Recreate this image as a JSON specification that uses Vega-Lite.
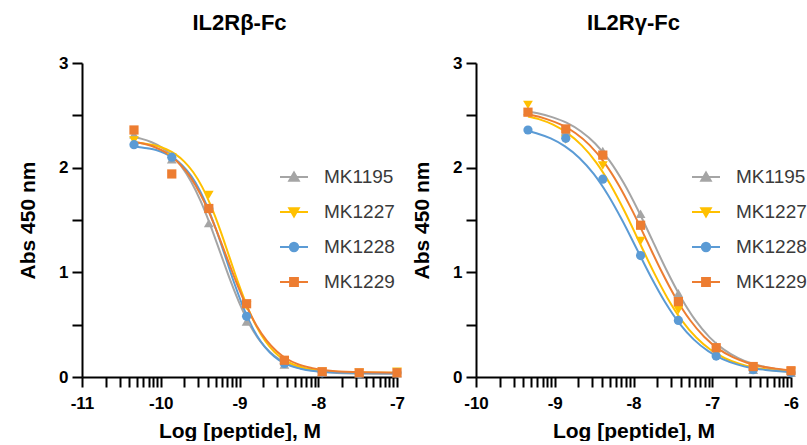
{
  "$schema": "https://vega.github.io/schema/vega-lite/v6.json",
  "padding": {"left": 17, "top": 12, "right": 0, "bottom": 0},
  "config": {
    "view": {"stroke": null},
    "font": "Liberation Sans",
    "title": {"font": "Liberation Sans", "fontSize": 22, "fontWeight": "bold", "color": "black", "offset": 19, "anchor": "middle"},
    "axis": {
      "domainColor": "black", "domainWidth": 2, "tickColor": "black", "tickWidth": 2, "tickSize": 10,
      "labelFont": "Liberation Sans", "labelFontSize": 17, "labelFontWeight": "bold", "labelColor": "black",
      "titleFont": "Liberation Sans", "titleFontSize": 21, "titleFontWeight": "bold", "titleColor": "black",
      "grid": false, "labelOverlap": false, "labelFlush": false
    },
    "axisX": {"labelPadding": 8, "titlePadding": 9},
    "axisY": {"labelPadding": 4, "titlePadding": 20}
  },
  "datasets": {
    "pts": [
      {"p":"L","s":"MK1195","x":-10.34,"y":2.32},{"p":"L","s":"MK1195","x":-9.86,"y":2.08},{"p":"L","s":"MK1195","x":-9.39,"y":1.47},{"p":"L","s":"MK1195","x":-8.91,"y":0.53},{"p":"L","s":"MK1195","x":-8.43,"y":0.12},{"p":"L","s":"MK1195","x":-7.95,"y":0.05},{"p":"L","s":"MK1195","x":-7.48,"y":0.035},{"p":"L","s":"MK1195","x":-7.0,"y":0.035},
      {"p":"L","s":"MK1227","x":-10.34,"y":2.26},{"p":"L","s":"MK1227","x":-9.86,"y":2.10},{"p":"L","s":"MK1227","x":-9.39,"y":1.74},{"p":"L","s":"MK1227","x":-8.91,"y":0.68},{"p":"L","s":"MK1227","x":-8.43,"y":0.15},{"p":"L","s":"MK1227","x":-7.95,"y":0.05},{"p":"L","s":"MK1227","x":-7.48,"y":0.04},{"p":"L","s":"MK1227","x":-7.0,"y":0.05},
      {"p":"L","s":"MK1228","x":-10.34,"y":2.22},{"p":"L","s":"MK1228","x":-9.86,"y":2.10},{"p":"L","s":"MK1228","x":-9.39,"y":1.61},{"p":"L","s":"MK1228","x":-8.91,"y":0.58},{"p":"L","s":"MK1228","x":-8.43,"y":0.13},{"p":"L","s":"MK1228","x":-7.95,"y":0.04},{"p":"L","s":"MK1228","x":-7.48,"y":0.03},{"p":"L","s":"MK1228","x":-7.0,"y":0.04},
      {"p":"L","s":"MK1229","x":-10.34,"y":2.36},{"p":"L","s":"MK1229","x":-9.86,"y":1.94},{"p":"L","s":"MK1229","x":-9.39,"y":1.61},{"p":"L","s":"MK1229","x":-8.91,"y":0.70},{"p":"L","s":"MK1229","x":-8.43,"y":0.16},{"p":"L","s":"MK1229","x":-7.95,"y":0.05},{"p":"L","s":"MK1229","x":-7.48,"y":0.04},{"p":"L","s":"MK1229","x":-7.0,"y":0.04},
      {"p":"R","s":"MK1195","x":-9.34,"y":2.54},{"p":"R","s":"MK1195","x":-8.86,"y":2.35},{"p":"R","s":"MK1195","x":-8.39,"y":2.16},{"p":"R","s":"MK1195","x":-7.91,"y":1.56},{"p":"R","s":"MK1195","x":-7.43,"y":0.80},{"p":"R","s":"MK1195","x":-6.95,"y":0.30},{"p":"R","s":"MK1195","x":-6.48,"y":0.07},{"p":"R","s":"MK1195","x":-6.0,"y":0.04},
      {"p":"R","s":"MK1227","x":-9.34,"y":2.60},{"p":"R","s":"MK1227","x":-8.86,"y":2.27},{"p":"R","s":"MK1227","x":-8.39,"y":2.02},{"p":"R","s":"MK1227","x":-7.91,"y":1.30},{"p":"R","s":"MK1227","x":-7.43,"y":0.64},{"p":"R","s":"MK1227","x":-6.95,"y":0.22},{"p":"R","s":"MK1227","x":-6.48,"y":0.08},{"p":"R","s":"MK1227","x":-6.0,"y":0.05},
      {"p":"R","s":"MK1228","x":-9.34,"y":2.36},{"p":"R","s":"MK1228","x":-8.86,"y":2.28},{"p":"R","s":"MK1228","x":-8.39,"y":1.89},{"p":"R","s":"MK1228","x":-7.91,"y":1.16},{"p":"R","s":"MK1228","x":-7.43,"y":0.54},{"p":"R","s":"MK1228","x":-6.95,"y":0.20},{"p":"R","s":"MK1228","x":-6.48,"y":0.07},{"p":"R","s":"MK1228","x":-6.0,"y":0.04},
      {"p":"R","s":"MK1229","x":-9.34,"y":2.53},{"p":"R","s":"MK1229","x":-8.86,"y":2.37},{"p":"R","s":"MK1229","x":-8.39,"y":2.12},{"p":"R","s":"MK1229","x":-7.91,"y":1.45},{"p":"R","s":"MK1229","x":-7.43,"y":0.72},{"p":"R","s":"MK1229","x":-6.95,"y":0.28},{"p":"R","s":"MK1229","x":-6.48,"y":0.10},{"p":"R","s":"MK1229","x":-6.0,"y":0.06}
    ],
    "fit": [
      {"p":"L","s":"MK1195","x":-10.34,"y":2.29},{"p":"L","s":"MK1195","x":-10.24,"y":2.275},{"p":"L","s":"MK1195","x":-10.115,"y":2.243},{"p":"L","s":"MK1195","x":-9.99,"y":2.194},{"p":"L","s":"MK1195","x":-9.865,"y":2.121},{"p":"L","s":"MK1195","x":-9.74,"y":2.015},{"p":"L","s":"MK1195","x":-9.615,"y":1.868},{"p":"L","s":"MK1195","x":-9.49,"y":1.675},{"p":"L","s":"MK1195","x":-9.365,"y":1.44},{"p":"L","s":"MK1195","x":-9.24,"y":1.18},{"p":"L","s":"MK1195","x":-9.115,"y":0.92},{"p":"L","s":"MK1195","x":-8.99,"y":0.686},{"p":"L","s":"MK1195","x":-8.865,"y":0.492},{"p":"L","s":"MK1195","x":-8.74,"y":0.345},{"p":"L","s":"MK1195","x":-8.615,"y":0.239},{"p":"L","s":"MK1195","x":-8.49,"y":0.166},{"p":"L","s":"MK1195","x":-8.365,"y":0.117},{"p":"L","s":"MK1195","x":-8.178,"y":0.076},{"p":"L","s":"MK1195","x":-7.99,"y":0.053},{"p":"L","s":"MK1195","x":-7.678,"y":0.037},{"p":"L","s":"MK1195","x":-7.0,"y":0.031},
      {"p":"L","s":"MK1227","x":-10.34,"y":2.242},{"p":"L","s":"MK1227","x":-10.159,"y":2.224},{"p":"L","s":"MK1227","x":-10.044,"y":2.207},{"p":"L","s":"MK1227","x":-9.93,"y":2.176},{"p":"L","s":"MK1227","x":-9.816,"y":2.129},{"p":"L","s":"MK1227","x":-9.701,"y":2.058},{"p":"L","s":"MK1227","x":-9.587,"y":1.956},{"p":"L","s":"MK1227","x":-9.473,"y":1.814},{"p":"L","s":"MK1227","x":-9.359,"y":1.627},{"p":"L","s":"MK1227","x":-9.244,"y":1.401},{"p":"L","s":"MK1227","x":-9.13,"y":1.15},{"p":"L","s":"MK1227","x":-9.016,"y":0.899},{"p":"L","s":"MK1227","x":-8.901,"y":0.673},{"p":"L","s":"MK1227","x":-8.787,"y":0.486},{"p":"L","s":"MK1227","x":-8.673,"y":0.344},{"p":"L","s":"MK1227","x":-8.559,"y":0.242},{"p":"L","s":"MK1227","x":-8.444,"y":0.171},{"p":"L","s":"MK1227","x":-8.33,"y":0.124},{"p":"L","s":"MK1227","x":-8.159,"y":0.084},{"p":"L","s":"MK1227","x":-7.987,"y":0.062},{"p":"L","s":"MK1227","x":-7.701,"y":0.047},{"p":"L","s":"MK1227","x":-7.0,"y":0.04},
      {"p":"L","s":"MK1228","x":-10.34,"y":2.203},{"p":"L","s":"MK1228","x":-10.17,"y":2.185},{"p":"L","s":"MK1228","x":-10.059,"y":2.168},{"p":"L","s":"MK1228","x":-9.948,"y":2.137},{"p":"L","s":"MK1228","x":-9.837,"y":2.091},{"p":"L","s":"MK1228","x":-9.726,"y":2.021},{"p":"L","s":"MK1228","x":-9.614,"y":1.921},{"p":"L","s":"MK1228","x":-9.503,"y":1.781},{"p":"L","s":"MK1228","x":-9.392,"y":1.597},{"p":"L","s":"MK1228","x":-9.281,"y":1.374},{"p":"L","s":"MK1228","x":-9.17,"y":1.128},{"p":"L","s":"MK1228","x":-9.059,"y":0.881},{"p":"L","s":"MK1228","x":-8.948,"y":0.658},{"p":"L","s":"MK1228","x":-8.837,"y":0.474},{"p":"L","s":"MK1228","x":-8.726,"y":0.334},{"p":"L","s":"MK1228","x":-8.614,"y":0.234},{"p":"L","s":"MK1228","x":-8.503,"y":0.164},{"p":"L","s":"MK1228","x":-8.392,"y":0.118},{"p":"L","s":"MK1228","x":-8.226,"y":0.079},{"p":"L","s":"MK1228","x":-8.059,"y":0.057},{"p":"L","s":"MK1228","x":-7.781,"y":0.042},{"p":"L","s":"MK1228","x":-7.0,"y":0.035},
      {"p":"L","s":"MK1229","x":-10.34,"y":2.246},{"p":"L","s":"MK1229","x":-10.202,"y":2.226},{"p":"L","s":"MK1229","x":-10.073,"y":2.195},{"p":"L","s":"MK1229","x":-9.944,"y":2.148},{"p":"L","s":"MK1229","x":-9.815,"y":2.076},{"p":"L","s":"MK1229","x":-9.686,"y":1.973},{"p":"L","s":"MK1229","x":-9.557,"y":1.83},{"p":"L","s":"MK1229","x":-9.428,"y":1.642},{"p":"L","s":"MK1229","x":-9.299,"y":1.413},{"p":"L","s":"MK1229","x":-9.17,"y":1.16},{"p":"L","s":"MK1229","x":-9.041,"y":0.907},{"p":"L","s":"MK1229","x":-8.912,"y":0.678},{"p":"L","s":"MK1229","x":-8.783,"y":0.49},{"p":"L","s":"MK1229","x":-8.654,"y":0.347},{"p":"L","s":"MK1229","x":-8.525,"y":0.244},{"p":"L","s":"MK1229","x":-8.396,"y":0.172},{"p":"L","s":"MK1229","x":-8.267,"y":0.125},{"p":"L","s":"MK1229","x":-8.073,"y":0.085},{"p":"L","s":"MK1229","x":-7.88,"y":0.062},{"p":"L","s":"MK1229","x":-7.557,"y":0.047},{"p":"L","s":"MK1229","x":-7.0,"y":0.041},
      {"p":"R","s":"MK1195","x":-9.34,"y":2.534},{"p":"R","s":"MK1195","x":-9.215,"y":2.519},{"p":"R","s":"MK1195","x":-9.033,"y":2.483},{"p":"R","s":"MK1195","x":-8.851,"y":2.43},{"p":"R","s":"MK1195","x":-8.669,"y":2.348},{"p":"R","s":"MK1195","x":-8.487,"y":2.231},{"p":"R","s":"MK1195","x":-8.305,"y":2.067},{"p":"R","s":"MK1195","x":-8.124,"y":1.853},{"p":"R","s":"MK1195","x":-7.942,"y":1.593},{"p":"R","s":"MK1195","x":-7.76,"y":1.305},{"p":"R","s":"MK1195","x":-7.578,"y":1.017},{"p":"R","s":"MK1195","x":-7.396,"y":0.757},{"p":"R","s":"MK1195","x":-7.215,"y":0.543},{"p":"R","s":"MK1195","x":-7.033,"y":0.379},{"p":"R","s":"MK1195","x":-6.851,"y":0.262},{"p":"R","s":"MK1195","x":-6.669,"y":0.18},{"p":"R","s":"MK1195","x":-6.487,"y":0.127},{"p":"R","s":"MK1195","x":-6.305,"y":0.091},{"p":"R","s":"MK1195","x":-6.0,"y":0.059},
      {"p":"R","s":"MK1227","x":-9.34,"y":2.489},{"p":"R","s":"MK1227","x":-9.203,"y":2.464},{"p":"R","s":"MK1227","x":-9.021,"y":2.411},{"p":"R","s":"MK1227","x":-8.839,"y":2.33},{"p":"R","s":"MK1227","x":-8.657,"y":2.213},{"p":"R","s":"MK1227","x":-8.475,"y":2.051},{"p":"R","s":"MK1227","x":-8.294,"y":1.839},{"p":"R","s":"MK1227","x":-8.112,"y":1.581},{"p":"R","s":"MK1227","x":-7.93,"y":1.295},{"p":"R","s":"MK1227","x":-7.748,"y":1.009},{"p":"R","s":"MK1227","x":-7.566,"y":0.751},{"p":"R","s":"MK1227","x":-7.385,"y":0.539},{"p":"R","s":"MK1227","x":-7.203,"y":0.377},{"p":"R","s":"MK1227","x":-7.021,"y":0.26},{"p":"R","s":"MK1227","x":-6.839,"y":0.179},{"p":"R","s":"MK1227","x":-6.657,"y":0.126},{"p":"R","s":"MK1227","x":-6.475,"y":0.091},{"p":"R","s":"MK1227","x":-6.294,"y":0.07},{"p":"R","s":"MK1227","x":-6.0,"y":0.049},
      {"p":"R","s":"MK1228","x":-9.34,"y":2.351},{"p":"R","s":"MK1228","x":-9.233,"y":2.329},{"p":"R","s":"MK1228","x":-9.051,"y":2.279},{"p":"R","s":"MK1228","x":-8.869,"y":2.203},{"p":"R","s":"MK1228","x":-8.687,"y":2.093},{"p":"R","s":"MK1228","x":-8.505,"y":1.94},{"p":"R","s":"MK1228","x":-8.324,"y":1.739},{"p":"R","s":"MK1228","x":-8.142,"y":1.495},{"p":"R","s":"MK1228","x":-7.96,"y":1.225},{"p":"R","s":"MK1228","x":-7.778,"y":0.955},{"p":"R","s":"MK1228","x":-7.596,"y":0.711},{"p":"R","s":"MK1228","x":-7.415,"y":0.51},{"p":"R","s":"MK1228","x":-7.233,"y":0.357},{"p":"R","s":"MK1228","x":-7.051,"y":0.247},{"p":"R","s":"MK1228","x":-6.869,"y":0.171},{"p":"R","s":"MK1228","x":-6.687,"y":0.121},{"p":"R","s":"MK1228","x":-6.505,"y":0.087},{"p":"R","s":"MK1228","x":-6.324,"y":0.068},{"p":"R","s":"MK1228","x":-6.0,"y":0.047},
      {"p":"R","s":"MK1229","x":-9.34,"y":2.507},{"p":"R","s":"MK1229","x":-9.284,"y":2.5},{"p":"R","s":"MK1229","x":-9.103,"y":2.464},{"p":"R","s":"MK1229","x":-8.921,"y":2.411},{"p":"R","s":"MK1229","x":-8.739,"y":2.331},{"p":"R","s":"MK1229","x":-8.557,"y":2.215},{"p":"R","s":"MK1229","x":-8.375,"y":2.053},{"p":"R","s":"MK1229","x":-8.194,"y":1.842},{"p":"R","s":"MK1229","x":-8.012,"y":1.585},{"p":"R","s":"MK1229","x":-7.83,"y":1.30},{"p":"R","s":"MK1229","x":-7.648,"y":1.015},{"p":"R","s":"MK1229","x":-7.466,"y":0.758},{"p":"R","s":"MK1229","x":-7.285,"y":0.547},{"p":"R","s":"MK1229","x":-7.103,"y":0.385},{"p":"R","s":"MK1229","x":-6.921,"y":0.269},{"p":"R","s":"MK1229","x":-6.739,"y":0.189},{"p":"R","s":"MK1229","x":-6.557,"y":0.136},{"p":"R","s":"MK1229","x":-6.375,"y":0.10},{"p":"R","s":"MK1229","x":-6.194,"y":0.08},{"p":"R","s":"MK1229","x":-6.0,"y":0.064}
    ]
  },
  "spacing": 6,
  "resolve": {"scale": {"color": "independent"}, "legend": {"color": "independent"}},
  "hconcat": [
    {
      "width": 315, "height": 314,
      "title": "IL2Rβ-Fc",
      "layer": [
        {
          "data": {"name": "fit"},
          "transform": [{"filter": "datum.p === 'L'"}],
          "mark": {"type": "line", "interpolate": "monotone", "strokeWidth": 2},
          "encoding": {
            "x": {"field": "x", "type": "quantitative", "scale": {"domain": [-11, -7], "nice": false, "zero": false},
              "axis": {"title": "Log [peptide], M", "labelOverlap": false, "labelFlush": false, "tickCount": 100,
                "values": [-11,-10.699,-10.523,-10.398,-10.301,-10.222,-10.155,-10.097,-10.046,-10,-9.699,-9.523,-9.398,-9.301,-9.222,-9.155,-9.097,-9.046,-9,-8.699,-8.523,-8.398,-8.301,-8.222,-8.155,-8.097,-8.046,-8,-7.699,-7.523,-7.398,-7.301,-7.222,-7.155,-7.097,-7.046,-7],
                "labelExpr": "abs(datum.value - round(datum.value)) < 0.001 ? '' + round(datum.value) : ''",
                "encode": {"ticks": {"update": {"y2": {"signal": "abs(datum.value - round(datum.value)) < 0.001 ? 10 : 5"}}}}}},
            "y": {"field": "y", "type": "quantitative", "scale": {"domain": [0, 3], "nice": false},
              "axis": {"title": "Abs 450 nm", "values": [0, 0.5, 1, 1.5, 2, 2.5, 3], "labelOverlap": false, "tickCount": 100,
                "labelExpr": "abs(datum.value - round(datum.value)) < 0.001 ? '' + round(datum.value) : ''",
                "encode": {"ticks": {"update": {"x2": {"signal": "abs(datum.value - round(datum.value)) < 0.001 ? -10 : -4"}}}}}},
            "color": {"field": "s", "type": "nominal",
              "scale": {"domain": ["MK1195","MK1227","MK1228","MK1229"], "range": ["#A5A5A5","#FFC000","#5B9BD5","#ED7D31"]},
              "legend": {"orient": "none", "legendX": 197, "legendY": 99, "title": null, "padding": 0,
                "symbolSize": 784, "symbolStrokeWidth": 2, "labelFont": "Liberation Sans", "labelFontSize": 19, "labelColor": "#3a3a3a", "labelOffset": 15, "rowPadding": 10,
                "encode": {"symbols": {"update": {
                  "shape": {"signal": "datum.value === 'MK1195' ? 'M-1,0H1M0,-0.32L0.34,0.26L-0.34,0.26Z' : datum.value === 'MK1227' ? 'M-1,0H1M0,0.32L0.34,-0.26L-0.34,-0.26Z' : datum.value === 'MK1228' ? 'M-1,0H1M0.3,0A0.3,0.3,0,1,1,-0.3,0A0.3,0.3,0,1,1,0.3,0Z' : 'M-1,0H1M-0.28,-0.28H0.28V0.28H-0.28Z'"},
                  "fill": {"signal": "datum.value === 'MK1195' ? '#A5A5A5' : datum.value === 'MK1227' ? '#FFC000' : datum.value === 'MK1228' ? '#5B9BD5' : '#ED7D31'"},
                  "stroke": {"signal": "datum.value === 'MK1195' ? '#A5A5A5' : datum.value === 'MK1227' ? '#FFC000' : datum.value === 'MK1228' ? '#5B9BD5' : '#ED7D31'"},
                  "strokeWidth": {"value": 2}, "size": {"value": 784}, "opacity": {"value": 1}, "fillOpacity": {"value": 1}}}}}}
          }
        },
        {"data": {"name": "pts"}, "transform": [{"filter": "datum.p === 'L' && datum.s === 'MK1195'"}],
         "mark": {"type": "point", "filled": true, "shape": "triangle-up", "size": 95, "color": "#A5A5A5", "opacity": 1},
         "encoding": {"x": {"field": "x", "type": "quantitative"}, "y": {"field": "y", "type": "quantitative"}}},
        {"data": {"name": "pts"}, "transform": [{"filter": "datum.p === 'L' && datum.s === 'MK1227'"}],
         "mark": {"type": "point", "filled": true, "shape": "triangle-down", "size": 95, "color": "#FFC000", "opacity": 1},
         "encoding": {"x": {"field": "x", "type": "quantitative"}, "y": {"field": "y", "type": "quantitative"}}},
        {"data": {"name": "pts"}, "transform": [{"filter": "datum.p === 'L' && datum.s === 'MK1228'"}],
         "mark": {"type": "point", "filled": true, "shape": "circle", "size": 85, "color": "#5B9BD5", "opacity": 1},
         "encoding": {"x": {"field": "x", "type": "quantitative"}, "y": {"field": "y", "type": "quantitative"}}},
        {"data": {"name": "pts"}, "transform": [{"filter": "datum.p === 'L' && datum.s === 'MK1229'"}],
         "mark": {"type": "point", "filled": true, "shape": "square", "size": 85, "color": "#ED7D31", "opacity": 1},
         "encoding": {"x": {"field": "x", "type": "quantitative"}, "y": {"field": "y", "type": "quantitative"}}}
      ]
    },
    {
      "width": 315, "height": 314,
      "title": "IL2Rγ-Fc",
      "layer": [
        {
          "data": {"name": "fit"},
          "transform": [{"filter": "datum.p === 'R'"}],
          "mark": {"type": "line", "interpolate": "monotone", "strokeWidth": 2},
          "encoding": {
            "x": {"field": "x", "type": "quantitative", "scale": {"domain": [-10, -6], "nice": false, "zero": false},
              "axis": {"title": "Log [peptide], M", "labelOverlap": false, "labelFlush": false, "tickCount": 100,
                "values": [-10,-9.699,-9.523,-9.398,-9.301,-9.222,-9.155,-9.097,-9.046,-9,-8.699,-8.523,-8.398,-8.301,-8.222,-8.155,-8.097,-8.046,-8,-7.699,-7.523,-7.398,-7.301,-7.222,-7.155,-7.097,-7.046,-7,-6.699,-6.523,-6.398,-6.301,-6.222,-6.155,-6.097,-6.046,-6],
                "labelExpr": "abs(datum.value - round(datum.value)) < 0.001 ? '' + round(datum.value) : ''",
                "encode": {"ticks": {"update": {"y2": {"signal": "abs(datum.value - round(datum.value)) < 0.001 ? 10 : 5"}}}}}},
            "y": {"field": "y", "type": "quantitative", "scale": {"domain": [0, 3], "nice": false},
              "axis": {"title": "Abs 450 nm", "values": [0, 0.5, 1, 1.5, 2, 2.5, 3], "labelOverlap": false, "tickCount": 100,
                "labelExpr": "abs(datum.value - round(datum.value)) < 0.001 ? '' + round(datum.value) : ''",
                "encode": {"ticks": {"update": {"x2": {"signal": "abs(datum.value - round(datum.value)) < 0.001 ? -10 : -4"}}}}}},
            "color": {"field": "s", "type": "nominal",
              "scale": {"domain": ["MK1195","MK1227","MK1228","MK1229"], "range": ["#A5A5A5","#FFC000","#5B9BD5","#ED7D31"]},
              "legend": {"orient": "none", "legendX": 215, "legendY": 99, "title": null, "padding": 0,
                "symbolSize": 784, "symbolStrokeWidth": 2, "labelFont": "Liberation Sans", "labelFontSize": 19, "labelColor": "#3a3a3a", "labelOffset": 15, "rowPadding": 10,
                "encode": {"symbols": {"update": {
                  "shape": {"signal": "datum.value === 'MK1195' ? 'M-1,0H1M0,-0.32L0.34,0.26L-0.34,0.26Z' : datum.value === 'MK1227' ? 'M-1,0H1M0,0.32L0.34,-0.26L-0.34,-0.26Z' : datum.value === 'MK1228' ? 'M-1,0H1M0.3,0A0.3,0.3,0,1,1,-0.3,0A0.3,0.3,0,1,1,0.3,0Z' : 'M-1,0H1M-0.28,-0.28H0.28V0.28H-0.28Z'"},
                  "fill": {"signal": "datum.value === 'MK1195' ? '#A5A5A5' : datum.value === 'MK1227' ? '#FFC000' : datum.value === 'MK1228' ? '#5B9BD5' : '#ED7D31'"},
                  "stroke": {"signal": "datum.value === 'MK1195' ? '#A5A5A5' : datum.value === 'MK1227' ? '#FFC000' : datum.value === 'MK1228' ? '#5B9BD5' : '#ED7D31'"},
                  "strokeWidth": {"value": 2}, "size": {"value": 784}, "opacity": {"value": 1}, "fillOpacity": {"value": 1}}}}}}
          }
        },
        {"data": {"name": "pts"}, "transform": [{"filter": "datum.p === 'R' && datum.s === 'MK1195'"}],
         "mark": {"type": "point", "filled": true, "shape": "triangle-up", "size": 95, "color": "#A5A5A5", "opacity": 1},
         "encoding": {"x": {"field": "x", "type": "quantitative"}, "y": {"field": "y", "type": "quantitative"}}},
        {"data": {"name": "pts"}, "transform": [{"filter": "datum.p === 'R' && datum.s === 'MK1227'"}],
         "mark": {"type": "point", "filled": true, "shape": "triangle-down", "size": 95, "color": "#FFC000", "opacity": 1},
         "encoding": {"x": {"field": "x", "type": "quantitative"}, "y": {"field": "y", "type": "quantitative"}}},
        {"data": {"name": "pts"}, "transform": [{"filter": "datum.p === 'R' && datum.s === 'MK1228'"}],
         "mark": {"type": "point", "filled": true, "shape": "circle", "size": 85, "color": "#5B9BD5", "opacity": 1},
         "encoding": {"x": {"field": "x", "type": "quantitative"}, "y": {"field": "y", "type": "quantitative"}}},
        {"data": {"name": "pts"}, "transform": [{"filter": "datum.p === 'R' && datum.s === 'MK1229'"}],
         "mark": {"type": "point", "filled": true, "shape": "square", "size": 85, "color": "#ED7D31", "opacity": 1},
         "encoding": {"x": {"field": "x", "type": "quantitative"}, "y": {"field": "y", "type": "quantitative"}}}
      ]
    }
  ]
}
